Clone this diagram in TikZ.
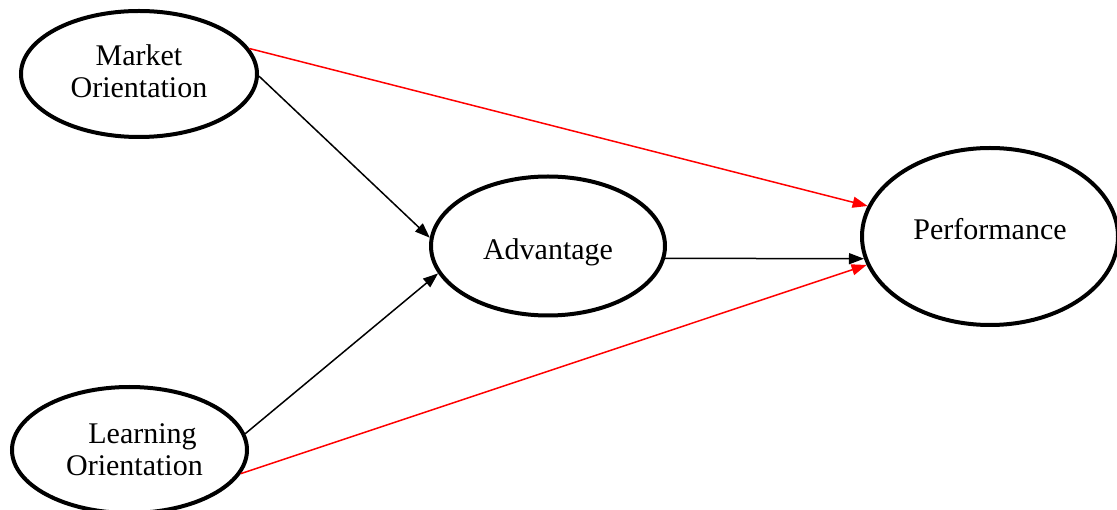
\documentclass[tikz,border=0pt]{standalone}
\usepackage{fontspec}
\setmainfont{Liberation Serif}
\usetikzlibrary{shapes.geometric,arrows.meta}
\begin{document}
\begin{tikzpicture}[x=1pt,y=-1pt,
  var/.style={draw,ellipse,line width=4pt,inner sep=0pt},
  lbl/.style={font=\fontsize{30}{32}\selectfont,align=center,inner sep=0pt},
  arr/.style={line width=1.5pt,-{Triangle[length=15pt,width=11pt]}},
  redarr/.style={arr,draw=red,fill=red}]
\path[use as bounding box] (0,0) rectangle (1117,510);
% variables
\node[var,minimum width=236pt,minimum height=126pt] (mo) at (139,74) {};
\node[lbl,yshift=3pt] (mot) at (mo.center) {Market\\Orientation};
\node[var,minimum width=235pt,minimum height=126pt] (lo) at (129.5,450) {};
\node[lbl,xshift=5pt] (lot) at (lo.center) {\hspace*{16pt}Learning\\Orientation};
\node[var,minimum width=234pt,minimum height=139pt] (adv) at (548,246) {};
\node[lbl,yshift=-6pt] (advt) at (adv.center) {Advantage};
\node[var,minimum width=256pt,minimum height=177pt] (perf) at (990,236.5) {};
\node[lbl,yshift=7.5pt] (perft) at (perf.center) {Performance};
% paths
\draw[arr] (mo.-1.5) -- (adv.176);
\draw[arr] (lo.8.9) -- (adv.194.5);
\draw[arr] (adv.-6.3) -- (perf.190.4);
\draw[redarr] (mo.13.3) -- (perf.166.9);
\draw[redarr] (lo.-12.2) -- (perf.193.1);
\end{tikzpicture}
\end{document}
